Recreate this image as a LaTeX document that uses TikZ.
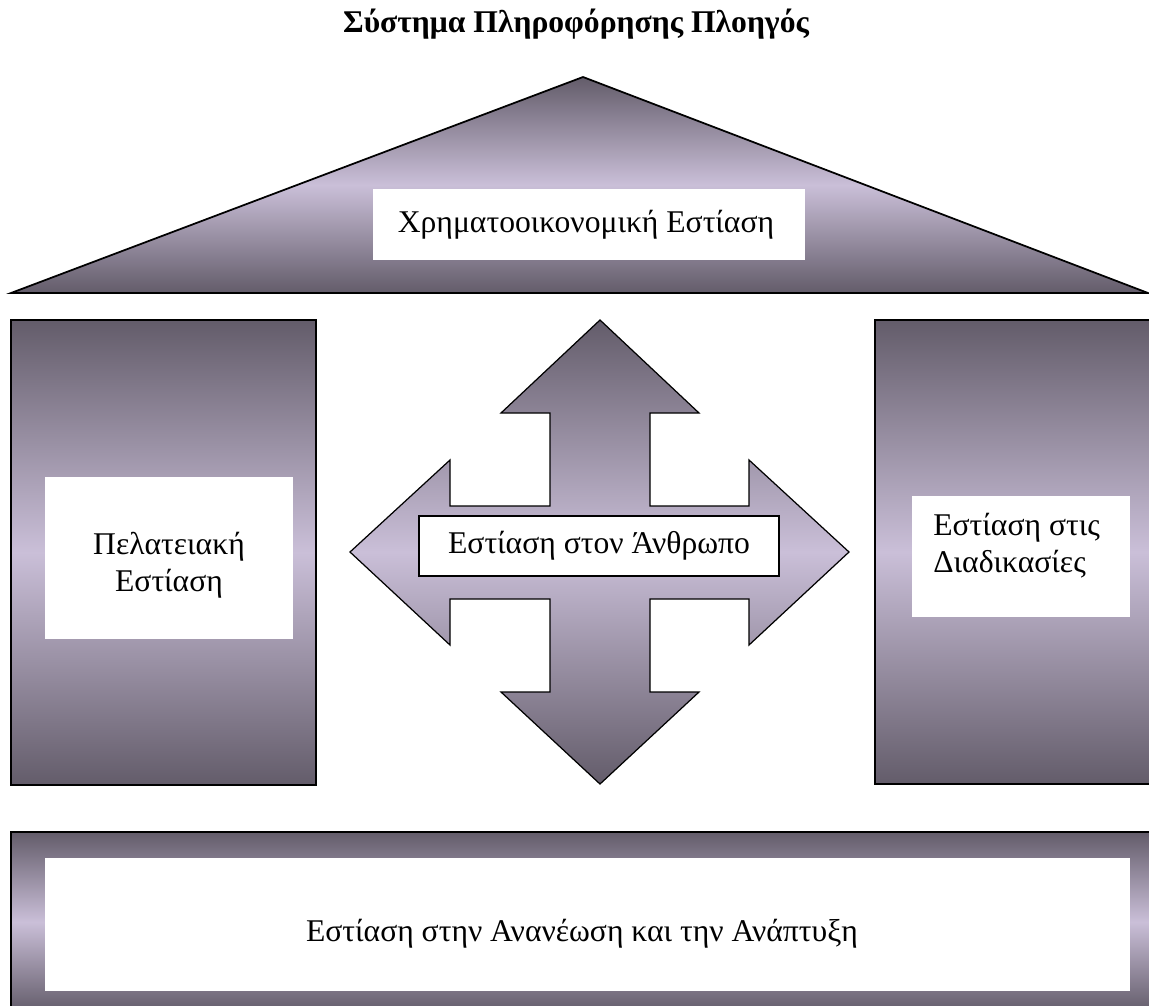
\documentclass[tikz,border=0pt]{standalone}
\usepackage{fontspec}
\setmainfont{Liberation Serif}
\definecolor{darkmauve}{RGB}{99,92,106}
\definecolor{lightmauve}{RGB}{202,191,216}

\begin{document}
\begin{tikzpicture}[x=0.02cm, y=-0.02cm, line join=miter]
            \tikzset{
                pillar/.style={
                        draw=black, line width=1pt,
                        top color=darkmauve, bottom color=darkmauve, middle color=lightmauve
                    },
                panel/.style={fill=white},
                caption/.style={font=\fontsize{18}{21}\selectfont, align=center, inner sep=0pt}
            }
            \useasboundingbox (0,0) rectangle (1149,1005);
            \clip (0,0) rectangle (1149,1005);

            % Title
            \node[font=\bfseries\fontsize{18}{21}\selectfont, inner sep=0pt] (title) at (576,24) {Σύστημα Πληροφόρησης Πλοηγός};

            % Roof
            \draw[pillar] (11,293) -- (583,77) -- (1148,293) -- cycle;
            \draw[line width=1.5pt] (11,293) -- (1148,293);
            \fill[panel] (373,189) rectangle (805,260);
            \node[caption] (finance) at (586,225) {Χρηματοοικονομική Εστίαση};

            % Pillars
            \draw[pillar] (11,320) rectangle (316,785);
            \fill[panel] (45,477) rectangle (293,639);
            \node[caption] (customer) at (169,565) {Πελατειακή\\Εστίαση};

            \draw[pillar] (875,320) rectangle (1175,784);
            \fill[panel] (912,496) rectangle (1130,617);
            \node[caption, align=left, anchor=north west] (process) at (933,513) {Εστίαση στις\\Διαδικασίες};

            % Cross arrow
            \draw[pillar, line width=0.7pt] (600,320) -- (699,413) -- (650,413) -- (650,506) -- (749,506)
                -- (749,460) -- (849,552) -- (749,645) -- (749,599) -- (650,599) -- (650,692)
                -- (699,692) -- (600,784) -- (501,692) -- (550,692) -- (550,599) -- (450,599)
                -- (450,645) -- (350,552) -- (450,460) -- (450,506) -- (550,506) -- (550,413)
                -- (501,413) -- cycle;
            \node[caption, draw, line width=0.7pt, fill=white, minimum width=7.2cm, minimum height=1.2cm] (people) at (599,546) {Εστίαση στον Άνθρωπο};

            % Foundation
            \draw[pillar] (11,832) rectangle (1175,1012);
            \fill[panel] (45,858) rectangle (1130,991);
            \node[caption] (growth) at (582,934) {Εστίαση στην Ανανέωση και την Ανάπτυξη};
        \end{tikzpicture}
\end{document}
